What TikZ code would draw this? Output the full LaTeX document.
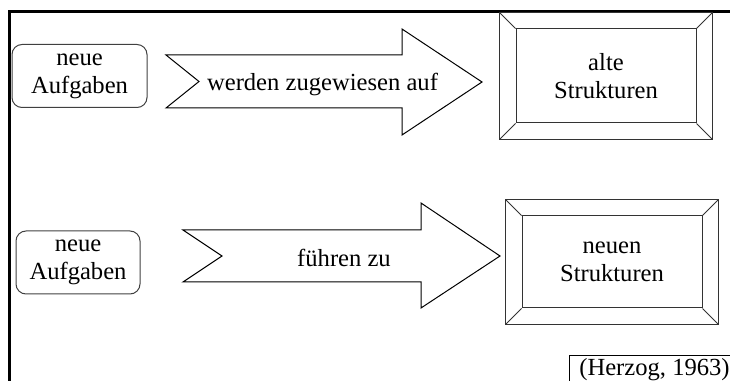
\documentclass[tikz,border=0pt]{standalone}
\usepackage{fontspec}
\setmainfont{Liberation Serif}
\usepackage{tikz}
\usetikzlibrary{calc}

\begin{document}
\begin{tikzpicture}[x=0.5pt,y=0.5pt,inner sep=1.5pt,
    font=\fontsize{12.3}{14}\selectfont,
    taskbox/.style={draw=black!75,rounded corners=5pt,align=center,
        minimum height=31.5pt,line width=0.5pt},
    strukbox/.style={draw=black!80,align=center,minimum width=90pt,
        line width=0.5pt},
    pfeil/.style={draw,line width=0.5pt,line join=miter},
    bevel/.style={draw=black!80,line width=0.5pt}]
        \useasboundingbox (0,0) rectangle (730,381);
        % Rahmen oben und links
        \draw [line width=1.5pt] (9,-4) |- (734,369);
        % obere Zeile
        \draw node [taskbox,minimum width=67.5pt] (A1) at (79.5,305)
            {neue\\Aufgaben};
        \draw [pfeil] (166,326) -- (402,326) -- (402,352) -- (482,299)
            -- (402,246) -- (402,273) -- (166,273) -- (199,299.5) -- cycle;
        \draw node (P1) at (322.5,297) {werden zugewiesen auf};
        \draw node [strukbox,minimum height=47pt] (S1) at (606,305)
            {alte\\Strukturen};
        \draw [bevel] ($ (S1.south west) + (-16,-16) $)
            rectangle ($ (S1.north east) + (16,16) $);
        \draw [bevel] (S1.north west) -- ($ (S1.north west) + (-16,16) $);
        \draw [bevel] (S1.north east) -- ($ (S1.north east) + (16,16) $);
        \draw [bevel] (S1.south east) -- ($ (S1.south east) + (16,-16) $);
        \draw [bevel] (S1.south west) -- ($ (S1.south west) + (-16,-16) $);
        % untere Zeile
        \draw node [taskbox,minimum width=62pt] (A2) at (78,118.5)
            {neue\\Aufgaben};
        \draw [pfeil] (183,151) -- (421,151) -- (421,178) -- (500,125)
            -- (421,73) -- (421,99) -- (183,99) -- (222,125) -- cycle;
        \draw node (P2) at (344,123) {führen zu};
        \draw node [strukbox,minimum height=46pt] (S2) at (612,119)
            {neuen\\Strukturen};
        \draw [bevel] ($ (S2.south west) + (-16,-16) $)
            rectangle ($ (S2.north east) + (16,16) $);
        \draw [bevel] (S2.north west) -- ($ (S2.north west) + (-16,16) $);
        \draw [bevel] (S2.north east) -- ($ (S2.north east) + (16,16) $);
        \draw [bevel] (S2.south east) -- ($ (S2.south east) + (16,-16) $);
        \draw [bevel] (S2.south west) -- ($ (S2.south west) + (-16,-16) $);
        % Quelle
        \draw node [draw,line width=0.5pt,anchor=north west,minimum height=13pt,
            minimum width=85pt,align=left] (Q) at (569,26) {(Herzog, 1963)};
    \end{tikzpicture}
\end{document}
